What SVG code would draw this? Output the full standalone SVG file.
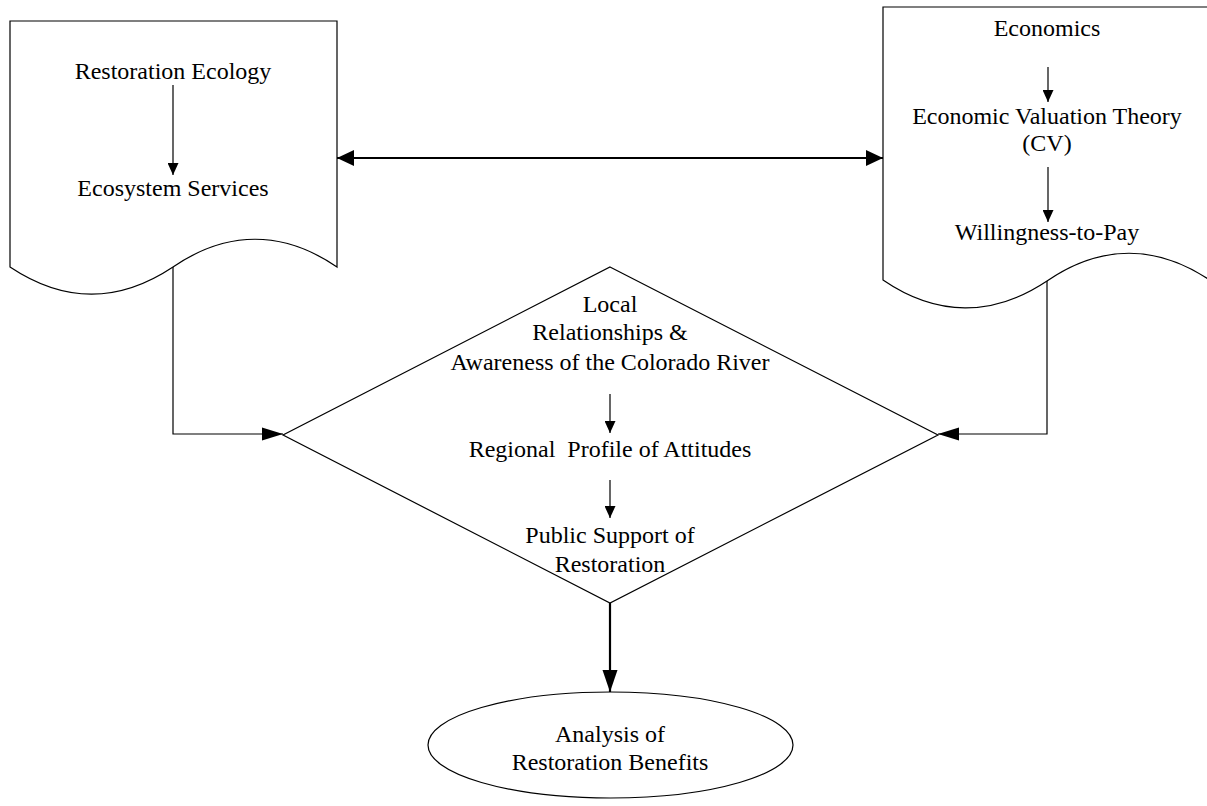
<svg xmlns="http://www.w3.org/2000/svg" width="1207" height="806" viewBox="0 0 1207 806">
<style>
.shape{fill:#fff;stroke:#000;stroke-width:1.2}
.t{font-family:"Liberation Serif","Times New Roman",serif;font-size:24px;fill:#000;text-anchor:middle}
.c{fill:none;stroke:#000;stroke-width:1.2}
</style>
<defs>
<marker id="sm" markerUnits="userSpaceOnUse" markerWidth="12" markerHeight="11" refX="12" refY="5.5" orient="auto"><path d="M0,0 L12,5.5 L0,11 z" fill="#000"/></marker>
<marker id="md" markerUnits="userSpaceOnUse" markerWidth="21" markerHeight="14" refX="21" refY="7" orient="auto"><path d="M0,0.5 L21,7 L0,13.5 z" fill="#000"/></marker>
<marker id="lg" markerUnits="userSpaceOnUse" markerWidth="22" markerHeight="16" refX="22" refY="8" orient="auto"><path d="M0,0.5 L22,8 L0,15.5 z" fill="#000"/></marker>
<marker id="dbl" markerUnits="userSpaceOnUse" markerWidth="17" markerHeight="17" refX="17" refY="8.5" orient="auto-start-reverse"><path d="M0,0.5 L17,8.5 L0,16.5 z" fill="#000"/></marker>
</defs>
<rect width="1207" height="806" fill="#fff"/>
<g id="connectors">
<path class="c" d="M173,267 V434 H283" marker-end="url(#md)"/>
<path class="c" d="M1047,281 V434 H938" marker-end="url(#md)"/>
<path class="c" d="M337,158 H883" style="stroke-width:1.8" marker-start="url(#dbl)" marker-end="url(#dbl)"/>
<path class="c" d="M610,603 V692" style="stroke-width:2.2" marker-end="url(#lg)"/>
</g>
<g id="restoration-ecology">
<path class="shape" d="M10,21 H337 V267 C283,230 227,230 173,267 C119,303 64,303 10,267 Z"/>
<text class="t" x="173" y="79">Restoration Ecology</text>
<path class="c" d="M173,85 V175" marker-end="url(#sm)"/>
<text class="t" x="173" y="196">Ecosystem Services</text>
</g>
<g id="economics">
<path class="shape" d="M883,7 H1211 V281 C1157,244 1101,244 1047,281 C993,317 937,317 883,280 Z"/>
<text class="t" x="1047" y="36">Economics</text>
<path class="c" d="M1048,67 V102" marker-end="url(#sm)"/>
<text class="t" x="1047" y="124">Economic Valuation Theory</text>
<text class="t" x="1047" y="151">(CV)</text>
<path class="c" d="M1048,167 V222" marker-end="url(#sm)"/>
<text class="t" x="1047" y="240">Willingness-to-Pay</text>
</g>
<g id="local-relationships">
<path class="shape" d="M610,267 L938,435 L610,603 L283,435 Z" style="fill:none"/>
<text class="t" x="610" y="312">Local</text>
<text class="t" x="610" y="340">Relationships &amp;</text>
<text class="t" x="610" y="370">Awareness of the Colorado River</text>
<path class="c" d="M610,394 V433" marker-end="url(#sm)"/>
<text class="t" x="610" y="457" style="white-space:pre">Regional  Profile of Attitudes</text>
<path class="c" d="M610,480 V518" marker-end="url(#sm)"/>
<text class="t" x="610" y="543">Public Support of</text>
<text class="t" x="610" y="572">Restoration</text>
</g>
<g id="analysis">
<ellipse class="shape" cx="610.5" cy="745" rx="182.5" ry="53"/>
<text class="t" x="610" y="742">Analysis of</text>
<text class="t" x="610" y="770">Restoration Benefits</text>
</g>
</svg>
